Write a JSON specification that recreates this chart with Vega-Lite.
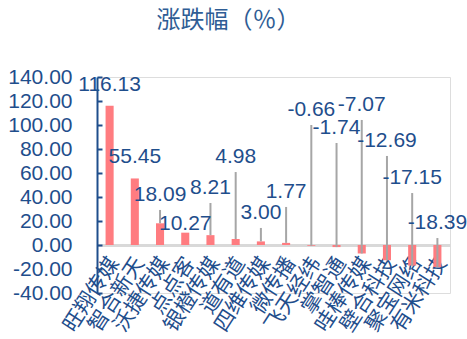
{
  "$schema": "https://vega.github.io/schema/vega-lite/v6.json",
  "width": 353,
  "height": 216,
  "autosize": {"type": "none"},
  "padding": {"left": 97, "top": 77, "right": 17, "bottom": 46},
  "background": "white",
  "config": {
    "locale": {
      "number": {"decimal": ".", "thousands": ",", "grouping": [3], "currency": ["", ""], "minus": "-"}
    },
    "axisY": {
      "labelOverlap": false,
      "title": null,
      "format": ".2f",
      "grid": false,
      "domainColor": "#1F4E8C",
      "domainWidth": 2,
      "tickColor": "#1F4E8C",
      "tickWidth": 2,
      "tickSize": -5,
      "labelPadding": 30,
      "labelFont": "Liberation Sans",
      "labelFontSize": 21,
      "labelColor": "#1F4E8C",
      "labelBaseline": "middle",
      "zindex": 1
    }
  },
  "title": {
    "text": "涨跌幅（％）",
    "font": "Noto Sans CJK SC",
    "fontSize": 24,
    "fontWeight": "normal",
    "color": "#2F5D95",
    "anchor": "middle",
    "frame": "group",
    "dx": -45,
    "offset": 33
  },
  "data": {
    "values": [
      {"name": "旺翔传媒", "value": 116.13, "labelY": 133.3},
      {"name": "智合新天", "value": 55.45, "labelY": 73.3},
      {"name": "沃捷传媒", "value": 18.09, "labelY": 41.7},
      {"name": "点点客", "value": 10.27, "labelY": 17.5},
      {"name": "银橙传媒", "value": 8.21, "labelY": 47.5},
      {"name": "道有道", "value": 4.98, "labelY": 73.3},
      {"name": "四维传媒", "value": 3.0, "labelY": 26.7},
      {"name": "微传播", "value": 1.77, "labelY": 44.2},
      {"name": "飞天经纬", "value": -0.66, "labelY": 112.5},
      {"name": "掌智通", "value": -1.74, "labelY": 97.5},
      {"name": "哇棒传媒", "value": -7.07, "labelY": 116.7},
      {"name": "壁合科技", "value": -12.69, "labelY": 86.7},
      {"name": "聚宝网络", "value": -17.15, "labelY": 55.8},
      {"name": "有米科技", "value": -18.39, "labelY": 18.3}
    ]
  },
  "encoding": {
    "x": {
      "field": "name",
      "type": "nominal",
      "sort": null,
      "scale": {"paddingInner": 0.68, "paddingOuter": 0.34},
      "axis": {
        "title": null,
        "offset": -48,
        "domainColor": "#D9D9D9",
        "domainWidth": 3,
        "ticks": false,
        "labelAngle": -57,
        "labelAlign": "right",
        "labelBaseline": "middle",
        "labelFont": "Noto Sans CJK SC",
        "labelFontSize": 21,
        "labelColor": "#1F4E8C",
        "labelPadding": 14,
        "labelOffset": 5,
        "labelOverlap": false,
        "zindex": 0
      }
    }
  },
  "layer": [
    {
      "mark": {"type": "bar", "color": "#FF7C80"},
      "encoding": {
        "y": {
          "field": "value",
          "type": "quantitative",
          "scale": {"domain": [-40, 140], "nice": false, "zero": true},
          "axis": {"values": [-40, -20, 0, 20, 40, 60, 80, 100, 120, 140], "labelOverlap": false}
        }
      }
    },
    {
      "transform": [{"filter": "datum.labelY - datum.value > 20"}],
      "mark": {"type": "rule", "color": "#A6A6A6", "strokeWidth": 2, "y2Offset": 15},
      "encoding": {
        "y": {
          "field": "value",
          "type": "quantitative",
          "axis": {"values": [-40, -20, 0, 20, 40, 60, 80, 100, 120, 140], "labelOverlap": false}
        },
        "y2": {"field": "labelY"}
      }
    },
    {
      "mark": {
        "type": "text",
        "font": "Liberation Sans",
        "fontSize": 21,
        "color": "#1F4E8C",
        "align": "center",
        "baseline": "middle"
      },
      "encoding": {
        "y": {
          "field": "labelY",
          "type": "quantitative",
          "axis": {"values": [-40, -20, 0, 20, 40, 60, 80, 100, 120, 140], "labelOverlap": false}
        },
        "text": {"field": "value", "type": "quantitative", "format": ".2f"}
      }
    }
  ]
}
